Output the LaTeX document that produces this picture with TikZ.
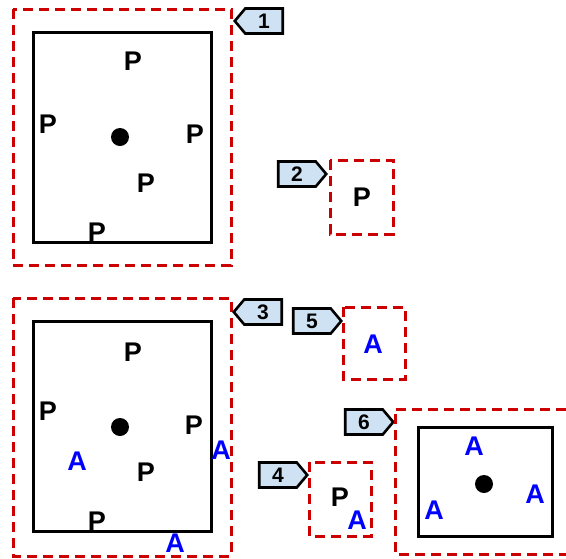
\documentclass[tikz,border=0pt]{standalone}
\usepackage{fontspec}
\setmainfont{Liberation Sans}
\usetikzlibrary{shapes.symbols}
\definecolor{tagblue}{HTML}{CFE2F3}
\definecolor{zonered}{HTML}{CC0000}
\begin{document}
\begin{tikzpicture}[x=1pt, y=-1pt,
  zone/.style={draw=zonered, line width=3pt, dash pattern=on 10pt off 6pt},
  frame/.style={draw, line width=3pt},
  lblP/.style={font=\fontsize{27}{27}\selectfont\bfseries, inner sep=0pt},
  lblA/.style={lblP, text=blue},
  tagbox/.style={signal, draw, line width=2.6pt, fill=tagblue, minimum width=48pt,
    minimum height=25pt, inner sep=0pt, signal pointer angle=100,
    font=\fontsize{21}{21}\selectfont\bfseries},
  dot/.style={circle, fill, minimum size=18pt, inner sep=0pt}]
    \useasboundingbox (0,0) rectangle (566,558);
    \draw[zone] (13,9) rectangle (231,265);
    \draw[frame] (33,32) rectangle (211,242);
    \node[dot] (c1) at (120,137) {};
    \node[lblP] (p11) at (133,61) {P};
    \node[lblP] (p12) at (48,124) {P};
    \node[lblP] (p13) at (195,134) {P};
    \node[lblP] (p14) at (146,183) {P};
    \node[lblP] (p15) at (97,232) {P};
    \node[tagbox, signal to=west] (t1) at (264,21) {1};
    \draw[zone] (330,160) rectangle (393,234);
    \node[lblP] (p21) at (362,197) {P};
    \node[tagbox, signal to=east] (t2) at (297,174) {2};
    \draw[zone] (13,298) rectangle (231,556);
    \draw[frame] (33,321) rectangle (211,531);
    \node[dot] (c3) at (120,427) {};
    \node[lblP] (p31) at (133,352) {P};
    \node[lblP] (p32) at (48,411) {P};
    \node[lblP] (p33) at (194,425) {P};
    \node[lblP] (p34) at (146,472) {P};
    \node[lblP] (p35) at (97,521) {P};
    \node[lblA] (a31) at (77,461) {A};
    \node[lblA] (a32) at (221,450) {A};
    \node[lblA] (a33) at (175,543) {A};
    \node[tagbox, signal to=west] (t3) at (263,312) {3};
    \node[tagbox, signal to=east] (t5) at (312,321) {5};
    \draw[zone] (343,307) rectangle (405,379);
    \node[lblA] (a51) at (373,344) {A};
    \node[tagbox, signal to=east] (t4) at (278,475) {4};
    \draw[zone] (309,462) rectangle (371,536);
    \node[lblP] (p41) at (340,497) {P};
    \node[lblA] (a41) at (357,520) {A};
    \node[tagbox, signal to=east] (t6) at (364,422) {6};
    \draw[zone] (566,409) -- (395,409) -- (395,554) -- (566,554);
    \draw[frame] (418,427) rectangle (552,536);
    \node[dot] (c6) at (484,484) {};
    \node[lblA] (a61) at (474,446) {A};
    \node[lblA] (a62) at (535,494) {A};
    \node[lblA] (a63) at (434,510) {A};
\end{tikzpicture}
\end{document}
